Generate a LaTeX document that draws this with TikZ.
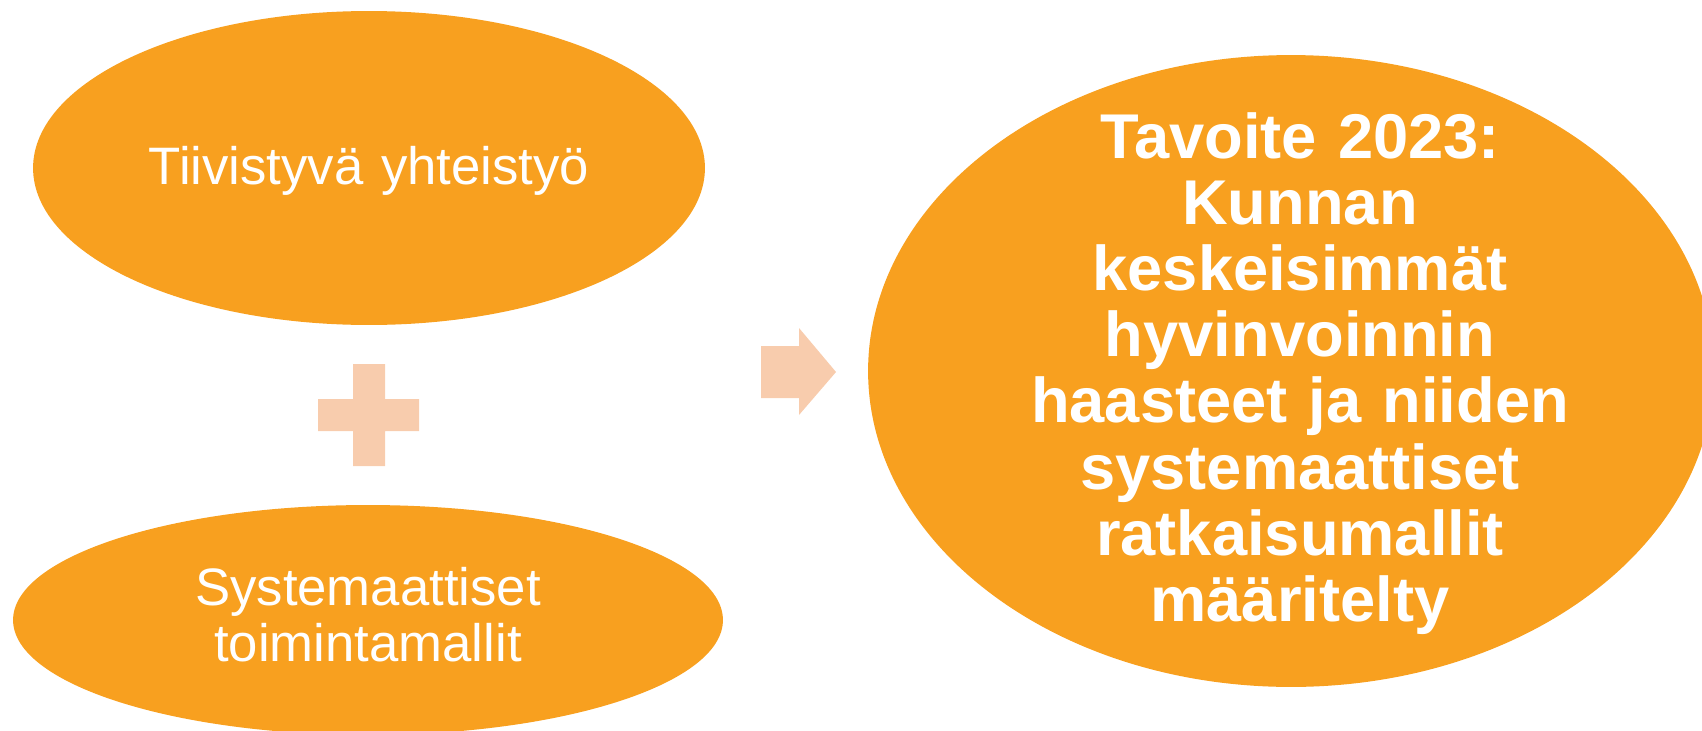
\documentclass[tikz,border=0pt]{standalone}
\usepackage{fontspec}
\setmainfont{Liberation Sans}
\usetikzlibrary{shapes.geometric}
\definecolor{tone}{RGB}{248,160,31}
\definecolor{pale}{RGB}{248,204,173}

\begin{document}
\begin{tikzpicture}[x=0.02cm,y=-0.02cm,
  blob/.style={ellipse,fill=tone,inner sep=0pt,outer sep=0pt},
  words/.style={text=white,align=center,inner sep=0pt,anchor=base,text width=12cm,
    font=\fontsize{30pt}{31.9pt}\selectfont},
  bigwords/.style={words,text width=11.6cm,font=\fontsize{36pt}{37.7pt}\selectfont\bfseries}]
  \useasboundingbox (0,0) rectangle (1702,730);
  \clip (0,0) rectangle (1702,730);

  \node [blob,minimum width=13.44cm,minimum height=6.28cm] (coop) at (369,168) {};
  \node [blob,minimum width=14.2cm,minimum height=4.6cm] (model) at (368,620) {};
  \node [blob,minimum width=16.92cm,minimum height=12.64cm] (goal) at (1291,371) {};

  \node [words] (cooptext) at (369,184) {Tiivistyvä yhteistyö};
  \node [words] (modeltext) at (368,605) {Systemaattiset\\toimintamallit};
  \node [bigwords] (goaltext) at (1300,158) {Tavoite 2023:\\Kunnan\\keskeisimmät\\hyvinvoinnin\\haasteet ja niiden\\systemaattiset\\ratkaisumallit\\määritelty};

  % plus and arrow
  \fill [pale] (353,364) -- (385,364) -- (385,399) -- (419,399) -- (419,431) -- (385,431)
    -- (385,466) -- (353,466) -- (353,431) -- (318,431) -- (318,399) -- (353,399) -- cycle;
  \fill [pale] (761,346) -- (799,346) -- (799,328) -- (836,372) -- (799,415) -- (799,398)
    -- (761,398) -- cycle;
\end{tikzpicture}
\end{document}
